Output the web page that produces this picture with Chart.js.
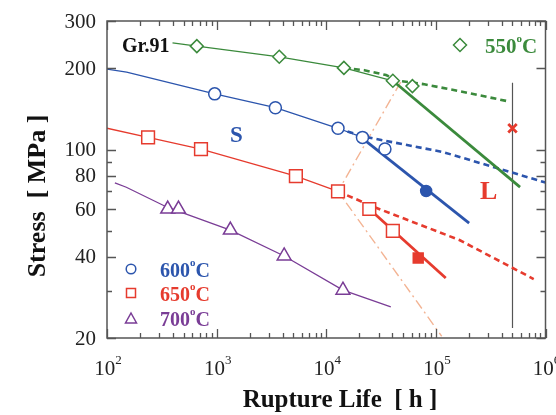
<!DOCTYPE html>
<html><head><meta charset="utf-8">
<script src="https://cdn.jsdelivr.net/npm/chart.js@4/dist/chart.umd.min.js"></script>
<style>html,body{margin:0;padding:0;background:#fff}#wrap{width:556px;height:415px;position:relative}</style>
</head><body><div id="wrap"><canvas id="c" width="556" height="415"></canvas></div>
<script>
// ---- tick data ----
const xTickValues = [100, 1000, 10000, 100000, 1000000];
const xTickExponents = ['2', '3', '4', '5', '6'];
const yTickValues = [20, 30, 40, 50, 60, 70, 80, 90, 100, 200, 300];
const yTickLabels = [20, 40, 60, 80, 100, 200, 300];

// ---- 550 C ----
const g550Life = [660, 3728, 14490, 40500, 61100];
const g550Stress = [242, 221, 201, 180, 172];
const g550FitLife = [396, 660, 3728, 14490, 40500];
const g550FitStress = [249, 242, 221, 201, 180];
const g550DashLife = [14490, 22300, 35100, 45800, 76600, 174000, 458000];
const g550DashStress = [201, 197, 189, 180, 175, 164, 151];
const g550LongLife = [40500, 586000];
const g550LongStress = [180, 72.6];

// ---- 600 C ----
const b600Life = [960, 3436, 12800, 21400, 34300];
const b600Stress = [161, 143, 120, 111, 100.5];
const b600FitLife = [100, 151, 960, 3436, 12800, 21400];
const b600FitStress = [199, 194, 161, 143, 120, 111];
const b600DashLife = [12800, 21400, 115500, 1000000];
const b600DashStress = [120, 112, 98, 75.5];
const b600LongLife = [21400, 201000];
const b600LongStress = [110, 53.4];
const b600FilledLife = [81500];
const b600FilledStress = [70.2];

// ---- 650 C ----
const r650Life = [237, 720, 5284, 12800, 24700, 40500];
const r650Stress = [111, 100.5, 79.8, 70, 60.2, 49.9];
const r650FitLife = [100, 237, 720, 5284, 12800];
const r650FitStress = [120, 111, 100.5, 79.8, 70];
const r650DashLife = [12800, 27400, 164000, 781000];
const r650DashStress = [70, 61.2, 46.2, 33.1];
const r650LongLife = [24700, 123000];
const r650LongStress = [60.2, 33.4];
const r650FilledLife = [69000];
const r650FilledStress = [39.6];

// ---- 700 C ----
const p700Life = [358, 449, 1334, 4130, 14200];
const p700Stress = [60.2, 60.2, 50.3, 40.3, 30.1];
const p700FitLife = [118, 150, 358, 1334, 4130, 14200, 38800];
const p700FitStress = [75.2, 72.5, 61, 50.3, 40.3, 30.1, 26.1];

// ---- boundary / markers ----
const boundaryLife = [47700, 12800, 113000];
const boundaryStress = [178, 70, 20.3];
const vLineLife = [500000, 500000];
const vLineStress = [177, 21.8];
const crossLife = [500000];
const crossStress = [120];

const COL = { green: '#3b8a3c', blue: '#2c55ad', red: '#e63b2e', purple: '#7a3d96', orange: '#f3b494', axis: '#555' };

function pts(xs, ys) { return xs.map((x, i) => ({ x: x, y: ys[i] })); }
function lineDs(xs, ys, color, width, dash, order) {
  return { data: pts(xs, ys), showLine: true, borderColor: color, borderWidth: width, borderDash: dash || [],
    pointRadius: 0, fill: false, tension: 0, order: order || 2, borderCapStyle: 'butt' };
}
function markerDs(xs, ys, style, color, r, filled) {
  return { data: pts(xs, ys), showLine: false, pointStyle: style, pointRadius: r,
    pointBorderColor: color, pointBackgroundColor: filled ? color : '#fff', pointBorderWidth: 1.5,
    borderColor: color, backgroundColor: filled ? color : '#fff', order: 0 };
}

const datasets = [
  lineDs(boundaryLife, boundaryStress, COL.orange, 1.4, [10, 4, 2, 4], 5),
  lineDs(vLineLife, vLineStress, COL.axis, 1.2, [], 4),
  lineDs(g550FitLife, g550FitStress, COL.green, 1.3, [], 2),
  lineDs(g550DashLife, g550DashStress, COL.green, 2.6, [6, 4], 2),
  lineDs(g550LongLife, g550LongStress, COL.green, 2.8, [], 2),
  lineDs(b600FitLife, b600FitStress, COL.blue, 1.3, [], 2),
  lineDs(b600DashLife, b600DashStress, COL.blue, 2.6, [6, 4], 2),
  lineDs(b600LongLife, b600LongStress, COL.blue, 2.8, [], 2),
  lineDs(r650FitLife, r650FitStress, COL.red, 1.3, [], 2),
  lineDs(r650DashLife, r650DashStress, COL.red, 2.6, [6, 4], 2),
  lineDs(r650LongLife, r650LongStress, COL.red, 2.8, [], 2),
  lineDs(p700FitLife, p700FitStress, COL.purple, 1.3, [], 2),
  markerDs(g550Life, g550Stress, 'rectRot', COL.green, 6.5, false),
  markerDs(b600Life, b600Stress, 'circle', COL.blue, 6, false),
  markerDs(b600FilledLife, b600FilledStress, 'circle', COL.blue, 5.5, true),
  markerDs(r650Life, r650Stress, 'rect', COL.red, 9, false),
  markerDs(r650FilledLife, r650FilledStress, 'rect', COL.red, 7, true),
  markerDs(p700Life, p700Stress, 'triangle', COL.purple, 8, false),
  Object.assign(markerDs(crossLife, crossStress, 'crossRot', COL.red, 6, true), { pointBorderWidth: 2.8 })
];

function setTicks(vals) {
  return function (scale) { scale.ticks = vals.map(v => ({ value: v })); };
}

function supText(ctx, parts, x, y, align) {
  let total = 0;
  parts.forEach(p => { ctx.font = p.font; p.w = ctx.measureText(p.t).width; total += p.w; });
  let cx = align === 'center' ? x - total / 2 : x;
  parts.forEach(p => { ctx.font = p.font; ctx.textAlign = 'left'; ctx.fillText(p.t, cx, y + (p.dy || 0)); cx += p.w; });
}

const SERIF = '"Liberation Serif", "Times New Roman", serif';

const deco = {
  id: 'deco',
  afterDraw(chart) {
    const ctx = chart.ctx, a = chart.chartArea;
    const xs = chart.scales.x, ys = chart.scales.y;
    ctx.save();
    ctx.strokeStyle = COL.axis; ctx.lineWidth = 1.5; ctx.setLineDash([]);
    ctx.strokeRect(a.left, a.top, a.right - a.left, a.bottom - a.top);
    ctx.lineWidth = 1.3;
    yTickValues.forEach(v => {
      const py = Math.round(ys.getPixelForValue(v)) + 0.5;
      const len = yTickLabels.includes(v) ? 9 : 5;
      ctx.beginPath(); ctx.moveTo(a.left, py); ctx.lineTo(a.left + len, py);
      ctx.moveTo(a.right, py); ctx.lineTo(a.right - len, py); ctx.stroke();
    });
    xTickValues.forEach((v, i) => {
      const px0 = Math.round(xs.getPixelForValue(v)) + 0.5;
      ctx.beginPath(); ctx.moveTo(px0, a.bottom); ctx.lineTo(px0, a.bottom - 9);
      ctx.moveTo(px0, a.top); ctx.lineTo(px0, a.top + 9); ctx.stroke();
      if (i < xTickValues.length - 1) {
        for (let k = 2; k <= 9; k++) {
          const px = Math.round(xs.getPixelForValue(v * k)) + 0.5;
          ctx.beginPath(); ctx.moveTo(px, a.bottom); ctx.lineTo(px, a.bottom - 5);
          ctx.moveTo(px, a.top); ctx.lineTo(px, a.top + 5); ctx.stroke();
        }
      }
    });
    ctx.fillStyle = '#222';
    ctx.font = '21px ' + SERIF; ctx.textAlign = 'right'; ctx.textBaseline = 'middle';
    yTickLabels.forEach(v => { ctx.fillText(String(v), 96, ys.getPixelForValue(v) + 1); });
    ctx.textBaseline = 'alphabetic';
    xTickValues.forEach((v, i) => {
      supText(ctx, [{ t: '10', font: '21px ' + SERIF }, { t: xTickExponents[i], font: '13px ' + SERIF, dy: -11 }],
        xs.getPixelForValue(v) + 1, 375, 'center');
    });
    ctx.fillStyle = '#111';
    ctx.font = 'bold 25px ' + SERIF; ctx.textAlign = 'center';
    ctx.fillText('Rupture Life  [ h ]', 340, 407);
    ctx.save(); ctx.translate(45, 196); ctx.rotate(-Math.PI / 2);
    ctx.font = 'bold 26px ' + SERIF; ctx.fillText('Stress  [ MPa ]', 0, 0); ctx.restore();
    ctx.textAlign = 'left';
    ctx.font = 'bold 20px ' + SERIF; ctx.fillStyle = '#111';
    ctx.fillText('Gr.91', 122, 52);
    ctx.fillStyle = COL.blue; ctx.font = 'bold 23px ' + SERIF; ctx.fillText('S', 230, 142);
    ctx.fillStyle = COL.red; ctx.font = 'bold 26px ' + SERIF; ctx.fillText('L', 480, 199);
    ctx.strokeStyle = COL.green; ctx.lineWidth = 1.5;
    ctx.beginPath(); ctx.moveTo(460, 38.5); ctx.lineTo(466.5, 45); ctx.lineTo(460, 51.5); ctx.lineTo(453.5, 45); ctx.closePath(); ctx.stroke();
    const deg = (t, x, y, col, size) => {
      ctx.fillStyle = col;
      supText(ctx, [{ t: t, font: 'bold ' + size + 'px ' + SERIF }, { t: 'o', font: 'bold 11px ' + SERIF, dy: -11 },
        { t: 'C', font: 'bold ' + size + 'px ' + SERIF }], x, y, 'left');
    };
    deg('550', 485, 53, COL.green, 21);
    ctx.lineWidth = 1.5;
    ctx.strokeStyle = COL.blue; ctx.beginPath(); ctx.arc(131, 269, 4.8, 0, Math.PI * 2); ctx.stroke();
    ctx.strokeStyle = COL.red; ctx.strokeRect(126.5, 288.5, 9, 9);
    ctx.strokeStyle = COL.purple; ctx.beginPath(); ctx.moveTo(131, 313); ctx.lineTo(136.5, 323); ctx.lineTo(125.5, 323); ctx.closePath(); ctx.stroke();
    deg('600', 160, 277, COL.blue, 20);
    deg('650', 160, 301, COL.red, 20);
    deg('700', 160, 326, COL.purple, 20);
    ctx.restore();
  }
};

new Chart(document.getElementById('c'), {
  type: 'scatter',
  data: { datasets: datasets },
  options: {
    responsive: false, animation: false, events: [],
    layout: { padding: { left: 0, right: 1, top: 21, bottom: 0 } },
    plugins: { legend: { display: false }, tooltip: { enabled: false } },
    scales: {
      x: { type: 'logarithmic', min: 100, max: 1000000,
        ticks: { display: false }, grid: { display: false }, border: { display: false },
        afterBuildTicks: setTicks(xTickValues), afterFit: s => { s.height = 77; } },
      y: { type: 'logarithmic', min: 20, max: 300,
        ticks: { display: false }, grid: { display: false }, border: { display: false },
        afterBuildTicks: setTicks(yTickValues), afterFit: s => { s.width = 107; } }
    }
  },
  plugins: [deco]
});
</script></body></html>
